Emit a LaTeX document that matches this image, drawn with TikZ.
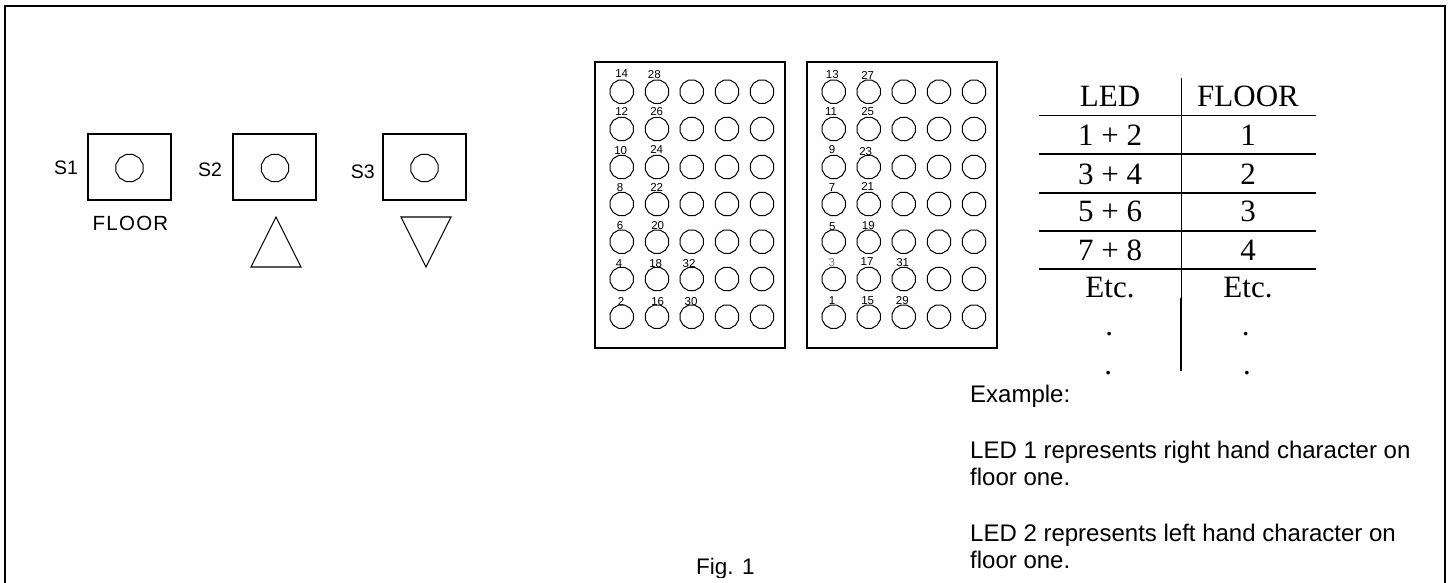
\documentclass[tikz,border=0pt]{standalone}
\usepackage{fontspec}
\setmainfont{Liberation Sans}
\newfontfamily\timesf{Liberation Serif}
\newfontfamily\spacedf[LetterSpace=6]{Liberation Sans}
\usetikzlibrary{shapes.geometric}
\tikzset{
  x=1pt,y=-1pt,
  ln/.style={draw=black,line width=1.1pt},
  tl/.style={draw=black,line width=1.5pt},
  led/.style={draw=black,line width=1pt,regular polygon,regular polygon sides=12,inner sep=0pt,minimum size=24pt},
  sw/.style={draw=black,line width=1pt,regular polygon,regular polygon sides=12,inner sep=0pt,minimum size=28pt},
  lab/.style={inner sep=0pt,anchor=base,font=\fontsize{11.5}{11.5}\selectfont},
  sl/.style={inner sep=0pt,anchor=base,font=\fontsize{19.5}{19.5}\selectfont},
  tb/.style={inner sep=0pt,anchor=base,font=\timesf\fontsize{31}{31}\selectfont},
  tx/.style={inner sep=0pt,anchor=base west,font=\fontsize{24}{24}\selectfont},
}
\begin{document}
\begin{tikzpicture}
\useasboundingbox (0,0) rectangle (1453,583);
\draw[line width=1.6pt] (5,583) -- (5,6) -- (1445,6) -- (1445,583);
% switches
\draw[ln] (88,134) rectangle (171,200);
\draw[ln] (233,134) rectangle (316,200);
\draw[ln] (383,134) rectangle (466,200);
\node[sw] (c1) at (129.5,168) {};
\node[sw] (c2) at (275,168) {};
\node[sw] (c3) at (424.5,168) {};
\node[sl] (s1) at (66,175) {S1};
\node[sl] (s2) at (210,176) {S2};
\node[sl] (s3) at (362.7,178) {S3};
\node[sl,font=\spacedf\fontsize{20.5}{20.5}\selectfont] (fl) at (130.5,230) {FLOOR};
\draw[ln,line join=miter] (276,217) -- (301,267) -- (251,267) -- cycle;
\draw[ln,line join=miter] (401,217) -- (451,217) -- (426,267) -- cycle;
% panels
\draw[ln] (595,62) rectangle (785,348);
\draw[ln] (807,62) rectangle (997,348);
\foreach \y [count=\j] in {91.7,129,167,204,241.7,279,316.7}{
  \foreach \x [count=\i] in {621.7,657,691.7,727,762}{
    \node[led] (l\i-\j) at (\x,\y) {};
  }
  \foreach \x [count=\i] in {833.7,868.7,903.7,939,974}{
    \node[led] (r\i-\j) at (\x,\y) {};
  }
}
% labels left panel
\foreach \x/\y/\t in {621.7/77.3/14,621.7/115.7/12,620.7/154.3/10,620/191/8,620/229/6,619/267.7/4,621/305/2,
  654.3/78.3/28,656.7/115.7/26,656.7/153.3/24,656.7/191.7/22,657.7/229.3/20,655.7/267.7/18,657.7/305/16,
  689/267.7/32,691/305/30}{
  \node[lab] at (\x,\y) {\t};
}
% labels right panel
\foreach \x/\y/\t in {832.3/78.3/13,831/115.7/11,832/153.3/9,832/191.7/7,832.3/230/5,832/304.3/1,
  867.7/79.3/27,867.7/115.7/25,865.7/155/23,867.7/190/21,868.3/229/19,867/265/17,867.7/304.3/15,
  902.7/266.7/31,902.3/304.3/29}{
  \node[lab] at (\x,\y) {\t};
}
\node[lab,text=black!50] at (831.7,266) {3};
% table
\draw[tl] (1181.7,78) -- (1181.7,305);
\draw[tl] (1181,298) -- (1181,371);
\foreach \y in {115.7,154,193,231,269}{ \draw[tl] (1039,\y) -- (1316,\y); }
\foreach \y/\a/\b in {106.7/LED/FLOOR,146/1 + 2/1,184/3 + 4/2,221.7/5 + 6/3,260/7 + 8/4,297.7/Etc./Etc.}{
  \node[tb] at (1110,\y) {\a};
  \node[tb] at (1248,\y) {\b};
}
\node[tb] at (1109.3,335) {.};
\node[tb] at (1245.7,335) {.};
\node[tb] at (1108.3,374) {.};
\node[tb] at (1247,374) {.};
% text
\node[tx] at (970,402.7) {Example:};
\node[tx] at (970,458) {LED 1 represents right hand character on};
\node[tx] at (970,485.7) {floor one.};
\node[tx] at (970,541.7) {LED 2 represents left hand character on};
\node[tx] at (970,568.3) {floor one.};
\begin{scope}
\clip (690,550) rectangle (760,577);
\node[tx,font=\fontsize{22.5}{22.5}\selectfont] at (696,574) {Fig. 1};
\end{scope}
\end{tikzpicture}
\end{document}
